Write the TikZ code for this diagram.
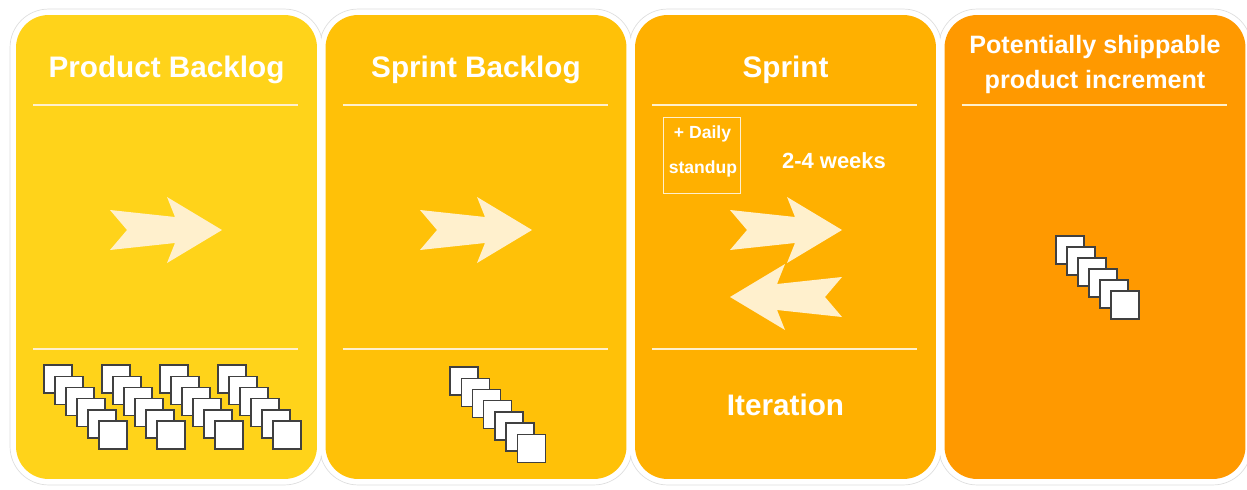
\documentclass[tikz,border=0pt]{standalone}
\usepackage{fontspec}
\setmainfont{Liberation Sans}
\usetikzlibrary{positioning}
\definecolor{backlogyellow}{RGB}{255,211,26}
\definecolor{sprintamber}{RGB}{255,193,8}
\definecolor{iterorange}{RGB}{255,176,0}
\definecolor{shiporange}{RGB}{255,153,0}
\definecolor{cream}{RGB}{255,240,205}
\tikzset{
  halo/.style={draw=black!13, line width=0.4pt, minimum width=6.26cm, minimum height=9.52cm, rounded corners=0.77cm, inner sep=0pt},
  rim/.style={draw=white, line width=0.2cm, minimum width=6.02cm, minimum height=9.28cm, rounded corners=0.65cm, inner sep=0pt},
  panel/.style={minimum width=6.02cm, minimum height=9.28cm, rounded corners=0.65cm, inner sep=0pt, outer sep=0pt},
  title/.style={text=white, anchor=base, inner sep=0pt, font=\bfseries\fontsize{16.9}{20}\selectfont},
  subtitle/.style={text=white, anchor=base, inner sep=0pt, font=\bfseries\fontsize{14.3}{17}\selectfont},
  note/.style={text=white, anchor=base, inner sep=0pt, font=\bfseries\fontsize{12.5}{15}\selectfont},
  small/.style={text=white, anchor=base, inner sep=0pt, font=\bfseries\fontsize{10}{12}\selectfont},
  sep/.style={draw=cream, line width=0.04cm},
  card/.style={fill=white, draw=black!75, line width=0.8pt, minimum size=0.56cm, inner sep=0pt},
  fatarrow/.pic={\fill[cream] (-112,-20) -- (-47,-13) -- (-55,-33) -- (0,0) -- (-55,33) -- (-47,13) -- (-112,20) -- (-95,0) -- cycle;}
}
\begin{document}
\begin{tikzpicture}[x=0.02cm, y=-0.02cm]
  \useasboundingbox (0,0) rectangle (1247,490);

  % frames
  \foreach \cx in {166.5,476,785.5,1095} \node[halo] (h\cx) at (\cx,247) {};
  \foreach \cx in {166.5,476,785.5,1095} \node[rim] (r\cx) at (\cx,247) {};

  \node[panel, fill=backlogyellow] (PB) at (166.5,247) {};
  \node[panel, fill=sprintamber] (SB) at (476,247) {};
  \node[panel, fill=iterorange] (SP) at (785.5,247) {};
  \node[panel, fill=shiporange] (PI) at (1095,247) {};

  % separators
  \foreach \xl in {16,325.5,635,944.5} \draw[sep] (\xl+17,105) -- (\xl+282,105);
  \foreach \xl in {16,325.5,635} \draw[sep] (\xl+17,349) -- (\xl+282,349);

  % titles
  \node[title] (PBtitle) at (166.5,77) {Product Backlog};
  \node[title] (SBtitle) at (476,77) {Sprint Backlog};
  \node[title] (SPtitle) at (785.5,77) {Sprint};
  \node[subtitle] (PItitle) at (1095,53) {Potentially shippable};
  \node[subtitle] (PItitleb) at (1095,88) {product increment};

  % sprint details
  \node[draw=cream, line width=0.02cm, minimum width=1.54cm, minimum height=1.54cm, inner sep=0pt] (standup) at (701.5,155.5) {};
  \node[small] (daily) at (702.5,138) {+ Daily};
  \node[small] (stand) at (703,173) {standup};
  \node[note] (weeks) at (834,168) {2-4 weeks};
  \node[title] (iter) at (785.5,415) {Iteration};

  % arrows
  \pic (PBarrow) at (222,230) {fatarrow};
  \pic (SBarrow) at (532,230) {fatarrow};
  \pic (SParrow) at (842,230) {fatarrow};
  \pic[xscale=-1] (SPback) at (730,297) {fatarrow};

  % items
  \foreach \k in {0,...,3}
    \foreach \i in {0,...,5}
      \node[card] (pb\k\i) at ({58*\k+58+11*\i}, {379+11.2*\i}) {};
  \foreach \i in {0,...,6}
    \node[card] (sb\i) at ({464+11.2*\i}, {381+11.2*\i}) {};
  \foreach \i in {0,...,5}
    \node[card] (pi\i) at ({1070+11*\i}, {250+11*\i}) {};
\end{tikzpicture}
\end{document}
